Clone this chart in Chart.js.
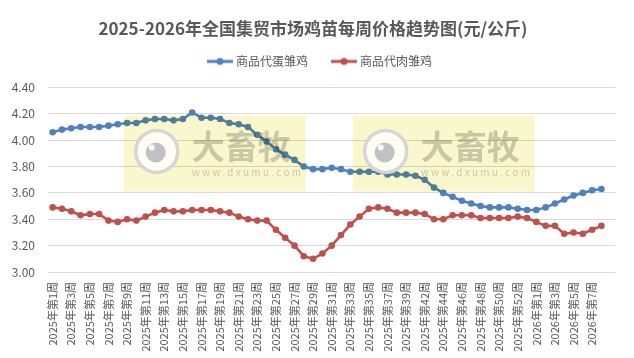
<!DOCTYPE html>
<html>
<head>
<meta charset="utf-8">
<script src="https://cdn.jsdelivr.net/npm/chart.js@4.4.1/dist/chart.umd.min.js"></script>
<style>
html,body{margin:0;padding:0;background:#ffffff;}
canvas{display:block;}
</style>
</head>
<body>
<canvas id="c" width="634" height="358"></canvas>
<script>
// ---- data ----
const chartTitle = '2025-2026年全国集贸市场鸡苗每周价格趋势图(元/公斤)';
const seriesNames = ['商品代蛋雏鸡', '商品代肉雏鸡'];

const categories = [
  '2025年第1周','2025年第2周','2025年第3周','2025年第4周','2025年第5周','2025年第6周','2025年第7周','2025年第8周','2025年第9周','2025年第10周',
  '2025年第11周','2025年第12周','2025年第13周','2025年第14周','2025年第15周','2025年第16周','2025年第17周','2025年第18周','2025年第19周','2025年第20周',
  '2025年第21周','2025年第22周','2025年第23周','2025年第24周','2025年第25周','2025年第26周','2025年第27周','2025年第28周','2025年第29周','2025年第30周',
  '2025年第31周','2025年第32周','2025年第33周','2025年第34周','2025年第35周','2025年第36周','2025年第37周','2025年第38周','2025年第39周',
  '2025年第41周',
  '2025年第42周','2025年第43周','2025年第44周','2025年第45周','2025年第46周','2025年第47周','2025年第48周','2025年第49周','2025年第50周','2025年第51周','2025年第52周',
  '2025年第53周',
  '2026年第1周','2026年第2周','2026年第3周','2026年第4周','2026年第5周','2026年第6周','2026年第7周','2026年第8周',
  ''
];

const eggChickPrices = [
  4.06, 4.08, 4.09, 4.10, 4.10, 4.10, 4.11, 4.12, 4.13, 4.13,
  4.15, 4.16, 4.16, 4.15, 4.16, 4.21, 4.17, 4.17, 4.16, 4.13,
  4.12, 4.10, 4.04, 3.99, 3.93, 3.89, 3.85, 3.80, 3.78, 3.78,
  3.79, 3.78, 3.76, 3.76, 3.76, 3.76, 3.74, 3.74, 3.74,
  3.73,
  3.70, 3.64, 3.60, 3.57, 3.54, 3.52, 3.50, 3.49, 3.49, 3.49, 3.48,
  3.47,
  3.47, 3.49, 3.52, 3.55, 3.58, 3.60, 3.62, 3.63
];

const broilerChickPrices = [
  3.49, 3.48, 3.46, 3.43, 3.44, 3.44, 3.39, 3.38, 3.40, 3.39,
  3.42, 3.45, 3.47, 3.46, 3.46, 3.47, 3.47, 3.47, 3.46, 3.45,
  3.42, 3.40, 3.39, 3.39, 3.32, 3.26, 3.20, 3.12, 3.10, 3.14,
  3.20, 3.28, 3.36, 3.42, 3.48, 3.49, 3.48, 3.45, 3.45,
  3.45,
  3.44, 3.40, 3.40, 3.43, 3.43, 3.43, 3.41, 3.41, 3.41, 3.41, 3.42,
  3.41,
  3.38, 3.35, 3.35, 3.29, 3.30, 3.29, 3.32, 3.35
];

const yMin = 3.0, yMax = 4.4, yStep = 0.2;

// ---- styles ----
const BLUE = '#4f81bd';
const RED = '#c0504d';
const TEXT = '#595959';
const GRID = '#d9d9d9';
const FONT = '"Noto Sans CJK SC", "Noto Sans", sans-serif';

function legendIcon(color) {
  const cv = document.createElement('canvas');
  cv.width = 42; cv.height = 10;
  const g = cv.getContext('2d');
  g.strokeStyle = color; g.lineWidth = 3; g.lineCap = 'butt';
  g.beginPath(); g.moveTo(16, 5); g.lineTo(42, 5); g.stroke();
  g.fillStyle = color;
  g.beginPath(); g.arc(29, 5, 3.5, 0, Math.PI * 2); g.fill();
  return cv;
}
const icons = [legendIcon(BLUE), legendIcon(RED)];

const legendGap = {
  id: 'legendGap',
  beforeLayout(chart) {
    const lg = chart.legend;
    if (lg && !lg._gapPatched) {
      const fit = lg.fit;
      lg.fit = function () { fit.call(this); this.height += 10; };
      lg._gapPatched = true;
    }
  }
};

const watermark = {
  id: 'watermark',
  afterDraw(chart) {
    const { ctx, chartArea: a } = chart;
    const W = a.right - a.left, H = a.bottom - a.top;
    const lefts = [0.1335, 0.537];
    const bw = 182, bh = 76;
    lefts.forEach(f => {
      const x0 = a.left + f * W;
      const y0 = a.top + 0.152 * H;
      ctx.save();
      ctx.globalCompositeOperation = 'multiply';
      ctx.fillStyle = 'rgb(250,247,204)';
      ctx.fillRect(x0, y0, bw, bh);
      ctx.restore();
      // logo
      ctx.save();
      const cx = x0 + 33, cy = y0 + 36;
      ctx.fillStyle = 'rgba(255,255,255,0.8)';
      ctx.beginPath(); ctx.arc(cx, cy, 22, 0, Math.PI * 2); ctx.fill();
      ctx.strokeStyle = 'rgba(212,212,212,0.95)'; ctx.lineWidth = 3.5;
      ctx.beginPath(); ctx.arc(cx, cy, 21, 0, Math.PI * 2); ctx.stroke();
      ctx.fillStyle = 'rgba(190,190,190,0.95)';
      ctx.beginPath(); ctx.arc(cx - 1, cy + 1, 10, 0, Math.PI * 2); ctx.fill();
      ctx.fillStyle = 'rgba(255,255,255,0.95)';
      ctx.beginPath(); ctx.arc(cx - 5, cy - 4, 3, 0, Math.PI * 2); ctx.fill();
      ctx.restore();
      // text
      ctx.save();
      ctx.globalCompositeOperation = 'multiply';
      ctx.fillStyle = 'rgb(206,206,206)';
      ctx.font = 'bold 33px ' + FONT;
      ctx.textAlign = 'left';
      ctx.textBaseline = 'middle';
      ctx.fillText('大畜牧', x0 + 68, y0 + 31);
      ctx.font = '10px ' + FONT;
      ctx.fillStyle = 'rgb(208,208,208)';
      try { ctx.letterSpacing = '2.3px'; } catch (e) {}
      ctx.fillText('www.dxumu.com', x0 + 68, y0 + 57);
      ctx.restore();
    });
  }
};

new Chart(document.getElementById('c'), {
  type: 'line',
  data: {
    labels: categories,
    datasets: [
      {
        label: seriesNames[0],
        data: eggChickPrices,
        borderColor: BLUE,
        backgroundColor: BLUE,
        borderWidth: 2.6,
        pointRadius: 3.3,
        pointBorderWidth: 0,
        pointBackgroundColor: BLUE,
        tension: 0
      },
      {
        label: seriesNames[1],
        data: broilerChickPrices,
        borderColor: RED,
        backgroundColor: RED,
        borderWidth: 2.6,
        pointRadius: 3.3,
        pointBorderWidth: 0,
        pointBackgroundColor: RED,
        tension: 0
      }
    ]
  },
  options: {
    responsive: false,
    animation: false,
    devicePixelRatio: 1,
    layout: { padding: { left: 0, right: 8, top: 0, bottom: 0 } },
    plugins: {
      title: {
        display: true,
        text: chartTitle,
        color: TEXT,
        font: { family: FONT, size: 17, weight: 'bold' },
        padding: { top: 18, bottom: 7 }
      },
      legend: {
        display: true,
        position: 'top',
        labels: {
          usePointStyle: true,
          pointStyleWidth: 36,
          padding: 10,
          color: TEXT,
          font: { family: FONT, size: 12 },
          generateLabels(chart) {
            const items = Chart.defaults.plugins.legend.labels.generateLabels(chart);
            items.forEach((it, i) => { it.pointStyle = icons[i]; });
            return items;
          }
        }
      },
      tooltip: { enabled: false }
    },
    scales: {
      x: {
        offset: true,
        grid: { display: false, drawTicks: false },
        border: { display: false },
        afterFit(scale) { scale.height = 86; },
        ticks: {
          autoSkip: false,
          maxRotation: 90,
          minRotation: 90,
          padding: 10,
          color: TEXT,
          font: { family: FONT, size: 11 },
          callback(val, i) { return i % 2 === 0 ? categories[i] : ''; }
        }
      },
      y: {
        min: yMin,
        max: yMax,
        grid: { color: GRID, lineWidth: 1, drawTicks: false },
        border: { display: false },
        afterFit(scale) { scale.width = 48; },
        ticks: {
          stepSize: yStep,
          padding: 13,
          color: TEXT,
          font: { family: FONT, size: 12 },
          callback(v) { return Number(v).toFixed(2); }
        }
      }
    }
  },
  plugins: [legendGap, watermark]
});
</script>
</body>
</html>
